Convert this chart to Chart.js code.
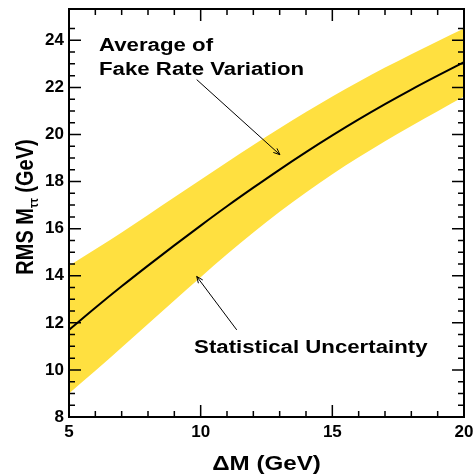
<!DOCTYPE html>
<html>
<head>
<meta charset="utf-8">
<script src="https://cdn.jsdelivr.net/npm/chart.js@4"></script>
<style>
  html, body { margin: 0; padding: 0; background: #fff; }
  #wrap { width: 474px; height: 476px; }
</style>
</head>
<body>
<div id="wrap"><canvas id="rmsChart" width="474" height="476"></canvas></div>
<script>
// values
const deltaM = [5, 6, 7, 8, 9, 10, 11, 12, 13, 14, 15, 16, 17, 18, 19, 20];
const rmsAverage = [11.70, 12.64, 13.55, 14.43, 15.29, 16.13, 16.95, 17.74, 18.51, 19.25, 19.96, 20.64, 21.29, 21.91, 22.50, 23.07];
const rmsStatUp = [14.42, 15.12, 15.84, 16.58, 17.33, 18.08, 18.82, 19.55, 20.26, 20.95, 21.61, 22.24, 22.84, 23.41, 23.96, 24.50];
const rmsStatDown = [9.00, 9.96, 10.95, 11.95, 12.95, 13.94, 14.91, 15.84, 16.72, 17.54, 18.31, 19.03, 19.71, 20.36, 20.99, 21.61];
const xTickLabels = [5, 10, 15, 20];
const yTickLabels = [8, 10, 12, 14, 16, 18, 20, 22, 24];

const FONT = '"Liberation Sans", Arial, sans-serif';
const BAND = "#FFE040";

function toPoints(ys) {
    return deltaM.map((x, i) => ({ x: x, y: ys[i] }));
}

/* ---------- notes drawn on top (data coordinates) ---------- */
const notes = [
    { lines: ["Average of", "Fake Rate Variation"], x: 6.14, y: 23.56, dy: 24,
      arrow: { from: [9.85, 22.33], to: [13.01, 19.14] } },
    { lines: ["Statistical Uncertainty"], x: 9.75, y: 10.73, dy: 0,
      arrow: { from: [11.37, 11.70], to: [9.85, 13.97] } }
];

function wideText(ctx, txt, x, y, size, sx) {
    ctx.save();
    ctx.translate(x, y);
    ctx.scale(sx, 1);
    ctx.font = "bold " + size + "px " + FONT;
    ctx.textBaseline = "alphabetic";
    ctx.textAlign = "left";
    ctx.fillText(txt, 0, 0);
    ctx.restore();
}

function arrow(ctx, x1, y1, x2, y2) {
    ctx.save();
    ctx.strokeStyle = "#000";
    ctx.lineWidth = 1;
    ctx.beginPath();
    ctx.moveTo(x1, y1);
    ctx.lineTo(x2, y2);
    ctx.stroke();
    const a = Math.atan2(y2 - y1, x2 - x1);
    const L = 7, w = 0.4;
    ctx.beginPath();
    ctx.moveTo(x2 - L * Math.cos(a - w), y2 - L * Math.sin(a - w));
    ctx.lineTo(x2, y2);
    ctx.lineTo(x2 - L * Math.cos(a + w), y2 - L * Math.sin(a + w));
    ctx.stroke();
    ctx.restore();
}

const framePlugin = {
    id: "frame",
    afterDraw(chart) {
        const ctx = chart.ctx;
        const area = chart.chartArea;
        const xs = chart.scales.x;
        const ys = chart.scales.y;

        /* ---------- frame ---------- */
        ctx.save();
        ctx.strokeStyle = "#000";
        ctx.lineWidth = 2;
        ctx.strokeRect(area.left, area.top, area.right - area.left, area.bottom - area.top);

        /* ---------- inward ticks, all four sides ---------- */
        ctx.lineWidth = 1.5;
        ctx.beginPath();
        xs.ticks.forEach(t => {
            const v = t.value;
            if (Math.abs(v - Math.round(v)) > 1e-6) return;
            const px = xs.getPixelForValue(v);
            const len = (v % 5 === 0) ? 12 : 6;
            ctx.moveTo(px, area.bottom); ctx.lineTo(px, area.bottom - len);
            ctx.moveTo(px, area.top); ctx.lineTo(px, area.top + len);
        });
        ys.ticks.forEach(t => {
            const v = t.value;
            if (Math.abs(v * 2 - Math.round(v * 2)) > 1e-6) return;
            const py = ys.getPixelForValue(v);
            const len = (Math.abs(v % 2) < 1e-6) ? 12 : 6;
            ctx.moveTo(area.left, py); ctx.lineTo(area.left + len, py);
            ctx.moveTo(area.right, py); ctx.lineTo(area.right - len, py);
        });
        ctx.stroke();
        ctx.restore();

        /* ---------- annotations ---------- */
        ctx.save();
        ctx.fillStyle = "#000";
        notes.forEach(n => {
            const px = xs.getPixelForValue(n.x);
            const py = ys.getPixelForValue(n.y);
            n.lines.forEach((l, i) => wideText(ctx, l, px, py + i * n.dy, 17.5, 1.27));
            arrow(ctx,
                xs.getPixelForValue(n.arrow.from[0]), ys.getPixelForValue(n.arrow.from[1]),
                xs.getPixelForValue(n.arrow.to[0]), ys.getPixelForValue(n.arrow.to[1]));
        });

        /* ---------- axis titles ---------- */
        ctx.font = "bold 19.5px " + FONT;
        const xt = "\u0394M (GeV)";
        const xw = ctx.measureText(xt).width * 1.24;
        wideText(ctx, xt, (area.left + area.right) / 2 - xw / 2, 470, 19.5, 1.24);

        // y title: RMS M_{tau tau} (GeV), rotated
        const big = "bold 20px " + FONT;
        const small = "bold 11px " + FONT;
        ctx.font = big;
        const w1 = ctx.measureText("RMS M").width;
        const w3 = ctx.measureText(" (GeV)").width;
        ctx.font = small;
        const w2 = ctx.measureText("\u03C4\u03C4").width;
        const total = w1 + w2 + w3;
        ctx.translate(33, (area.top + area.bottom) / 2 - 6);
        ctx.scale(1.2, 1);
        ctx.rotate(-Math.PI / 2);
        ctx.textBaseline = "alphabetic";
        ctx.textAlign = "left";
        let pos = -total / 2;
        ctx.font = big;
        ctx.fillText("RMS M", pos, 0);
        pos += w1;
        ctx.font = small;
        ctx.fillText("\u03C4\u03C4", pos, 4);
        pos += w2;
        ctx.font = big;
        ctx.fillText(" (GeV)", pos, 0);
        ctx.restore();
    }
};

const ctx = document.getElementById("rmsChart").getContext("2d");

new Chart(ctx, {
    type: "line",
    data: {
        datasets: [
            {
                label: "average",
                data: toPoints(rmsAverage),
                borderColor: "#000",
                borderWidth: 2,
                pointRadius: 0,
                cubicInterpolationMode: "monotone",
                fill: false,
                order: 0
            },
            {
                label: "stat up",
                data: toPoints(rmsStatUp),
                borderWidth: 0,
                borderColor: "rgba(0,0,0,0)",
                backgroundColor: BAND,
                pointRadius: 0,
                cubicInterpolationMode: "monotone",
                fill: "+1",
                order: 1
            },
            {
                label: "stat down",
                data: toPoints(rmsStatDown),
                borderWidth: 0,
                borderColor: "rgba(0,0,0,0)",
                pointRadius: 0,
                cubicInterpolationMode: "monotone",
                fill: false,
                order: 2
            }
        ]
    },
    options: {
        responsive: false,
        animation: false,
        layout: { padding: { top: 9, right: 10, left: 0, bottom: 0 } },
        plugins: {
            legend: { display: false },
            tooltip: { enabled: false }
        },
        scales: {
            x: {
                type: "linear",
                min: 5,
                max: 20,
                afterFit(s) { s.height = 59; },
                grid: { display: false },
                border: { display: false },
                ticks: {
                    stepSize: 1,
                    autoSkip: false,
                    maxRotation: 0,
                    padding: -3,
                    color: "#000",
                    font: { family: FONT, weight: "bold", size: 17 },
                    callback: v => xTickLabels.includes(v) ? String(v) : ""
                }
            },
            y: {
                type: "linear",
                min: 8,
                max: 25.33,
                afterFit(s) { s.width = 69; },
                grid: { display: false },
                border: { display: false },
                ticks: {
                    stepSize: 0.5,
                    autoSkip: false,
                    padding: -3,
                    color: "#000",
                    font: { family: FONT, weight: "bold", size: 17 },
                    callback: v => yTickLabels.includes(v) ? String(v) : ""
                }
            }
        }
    },
    plugins: [framePlugin]
});
</script>
</body>
</html>
